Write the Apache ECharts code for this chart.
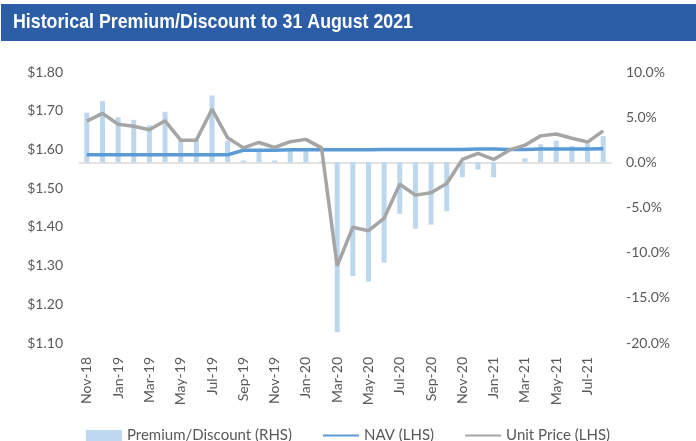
<!DOCTYPE html>
<html>
<head>
<meta charset="utf-8">
<script src="https://cdn.jsdelivr.net/npm/echarts@6/dist/echarts.min.js"></script>
<style>
  html, body { margin: 0; padding: 0; background: #fff; }
  #chart { width: 696px; height: 441px; }
</style>
</head>
<body>
<div id="chart"></div>
<script>
// months shown on the x axis
var months = [
  'Nov-18', 'Dec-18', 'Jan-19', 'Feb-19', 'Mar-19', 'Apr-19', 'May-19', 'Jun-19',
  'Jul-19', 'Aug-19', 'Sep-19', 'Oct-19', 'Nov-19', 'Dec-19', 'Jan-20', 'Feb-20',
  'Mar-20', 'Apr-20', 'May-20', 'Jun-20', 'Jul-20', 'Aug-20', 'Sep-20', 'Oct-20',
  'Nov-20', 'Dec-20', 'Jan-21', 'Feb-21', 'Mar-21', 'Apr-21', 'May-21', 'Jun-21',
  'Jul-21', 'Aug-21'
]

// premium / discount in %, right axis
var premium = [
  5.5, 6.8, 5.0, 4.7, 4.1, 5.6, 2.5, 2.5,
  7.4, 2.4, 0.2, 1.2, 0.2, 1.25, 1.25, 0.1,
  -18.8, -12.6, -13.2, -11.1, -5.7, -7.35, -6.9, -5.4,
  -1.65, -0.8, -1.65, 0.0, 0.45, 2.0, 2.4, 1.8,
  2.1, 2.9
]

// NAV in $, left axis
var nav = [
  1.586, 1.586, 1.586, 1.586, 1.586, 1.586, 1.586, 1.586,
  1.586, 1.586, 1.598, 1.598, 1.598, 1.599, 1.599, 1.599,
  1.599, 1.599, 1.599, 1.600, 1.600, 1.600, 1.600, 1.600,
  1.600, 1.601, 1.601, 1.600, 1.600, 1.601, 1.601, 1.601,
  1.601, 1.602
]

// unit price in $, left axis
var unitPrice = [
  1.673, 1.693, 1.665, 1.660, 1.651, 1.674, 1.624, 1.624,
  1.704, 1.630, 1.604, 1.618, 1.605, 1.620, 1.626, 1.604,
  1.299, 1.399, 1.390, 1.422, 1.510, 1.482, 1.488, 1.512,
  1.574, 1.590, 1.574, 1.598, 1.611, 1.635, 1.640, 1.629,
  1.619, 1.648
]

// right axis tick values (%)
var rightTicks = [-20, -15, -10, -5, 0, 5, 10]

var titleText = 'Historical Premium/Discount to 31 August 2021'

var chart = echarts.init(document.getElementById('chart'))

var labelFont = 'Lato, "Liberation Sans", sans-serif'
var titleFont = 'bold 21px "Liberation Sans", Arial, sans-serif'

var ctx = document.createElement('canvas').getContext('2d')

// squeeze the title to look like the condensed face in the original
ctx.font = titleFont
var titleScale = 400 / ctx.measureText(titleText).width

// right axis labels are left aligned in the original, pad the short ones
function pctText(v) { return v.toFixed(1) + '%' }
ctx.font = '14px ' + labelFont
var pctWidths = rightTicks.map(function (v) { return ctx.measureText(pctText(v)).width })
var maxPct = Math.max.apply(null, pctWidths)
var pctRich = {}
rightTicks.forEach(function (v, i) {
  pctRich['r' + i] = {
    color: '#595959',
    fontSize: 14,
    fontFamily: labelFont,
    padding: [0, maxPct - pctWidths[i], 0, 0]
  }
})

// hide the circle ECharts puts on line legend icons
var noDot = { color: 'rgba(0,0,0,0)', borderWidth: 0, opacity: 0 }

var option = {
  animation: false,
  graphic: [
    {
      type: 'rect',
      shape: { x: 1, y: 4, width: 695, height: 37 },
      style: { fill: '#2C5EA8' },
      silent: true
    },
    {
      type: 'text',
      x: 13,
      y: 12,
      scaleX: titleScale,
      style: {
        text: titleText,
        fill: '#fff',
        font: titleFont
      }
    }
  ],
  legend: {
    top: 423,
    left: 'center',
    itemGap: 30,
    itemWidth: 36,
    itemHeight: 11,
    textStyle: { color: '#595959', fontSize: 15, fontFamily: labelFont },
    data: [
      { name: 'Premium/Discount (RHS)', icon: 'rect' },
      { name: 'NAV (LHS)', itemStyle: noDot },
      { name: 'Unit Price (LHS)', itemStyle: noDot }
    ]
  },
  grid: { left: 79, right: 85, top: 72, bottom: 98 },
  xAxis: {
    type: 'category',
    data: months,
    axisLine: { lineStyle: { color: '#D9D9D9', width: 1.5 } },
    axisTick: { show: false },
    axisLabel: {
      rotate: 90,
      interval: 1,
      margin: 14,
      color: '#595959',
      fontSize: 14,
      fontFamily: labelFont
    }
  },
  yAxis: [
    {
      type: 'value',
      min: 1.1,
      max: 1.8,
      interval: 0.1,
      splitLine: { show: false },
      axisLine: { show: false },
      axisLabel: {
        color: '#595959',
        fontSize: 14,
        fontFamily: labelFont,
        margin: 16,
        formatter: function (v) { return '$' + v.toFixed(2) }
      }
    },
    {
      type: 'value',
      min: -20,
      max: 10,
      interval: 5,
      splitLine: { show: false },
      axisLine: { show: false },
      axisLabel: {
        color: '#595959',
        fontSize: 14,
        fontFamily: labelFont,
        margin: 15,
        formatter: function (v) {
          var i = rightTicks.indexOf(Math.round(v))
          return '{r' + i + '|' + pctText(v) + '}'
        },
        rich: pctRich
      }
    }
  ],
  series: [
    {
      name: 'Premium/Discount (RHS)',
      type: 'bar',
      yAxisIndex: 1,
      data: premium,
      barWidth: 5,
      itemStyle: { color: '#BDD7EE' }
    },
    {
      name: 'NAV (LHS)',
      type: 'line',
      yAxisIndex: 0,
      data: nav,
      symbol: 'none',
      lineStyle: { color: '#5B9BD5', width: 3.5 },
      itemStyle: { color: '#5B9BD5' }
    },
    {
      name: 'Unit Price (LHS)',
      type: 'line',
      yAxisIndex: 0,
      data: unitPrice,
      symbol: 'none',
      lineStyle: { color: '#A5A5A5', width: 3.5 },
      itemStyle: { color: '#A5A5A5' }
    }
  ]
}

chart.setOption(option)
</script>
</body>
</html>
